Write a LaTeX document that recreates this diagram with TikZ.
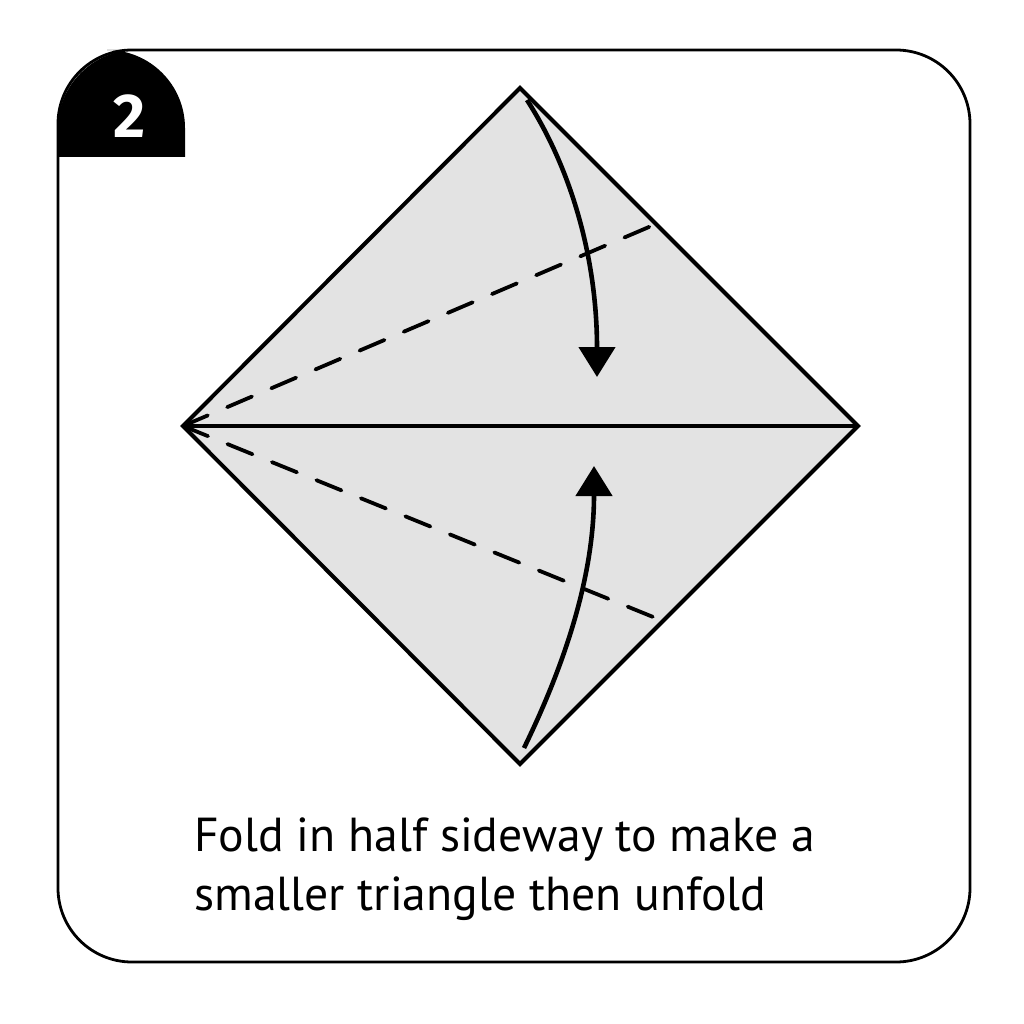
\documentclass[tikz,border=0pt]{standalone}
\usepackage{fontspec}
\setmainfont{PT Sans}
\newfontfamily\badgefont{Fira Sans}
\usetikzlibrary{arrows.meta}
\definecolor{paper}{HTML}{E3E3E3}
\begin{document}
\begin{tikzpicture}[x=1pt,y=-1pt,
  edge/.style={line width=4pt,line join=miter},
  crease/.style={line width=3.8pt,dash pattern=on 27pt off 21pt,line cap=round},
  foldarrow/.style={line width=4.6pt,-{Triangle[length=30pt,width=36pt]}}]
\useasboundingbox (0,0) rectangle (1024,1024);
% frame
\draw[line width=2.8pt,rounded corners=74pt] (58,50) rectangle (970,962);
% badge
\fill (58,157) {[rounded corners=78pt] -- (58,50) -- (185,50)} -- (185,157) -- cycle;
\node[text=white,font=\badgefont\bfseries\fontsize{62}{62}\selectfont] (num) at (130,116) {2};
% paper
\coordinate (T) at (520,88);
\coordinate (L) at (183,426);
\coordinate (R) at (858,426);
\coordinate (B) at (520,764);
\coordinate (DT) at (656,224);
\coordinate (DB) at (663,621);
\fill[paper] (T) -- (R) -- (B) -- (L) -- cycle;
\draw[crease] (L) -- (DT);
\draw[crease] (L) -- (DB);
\draw[edge] (T) -- (R) -- (B) -- (L) -- cycle;
\draw[edge] (L) -- (R);
% arrows
\coordinate (a1s) at (527,100);
\coordinate (a1e) at (597,377);
\coordinate (a2s) at (524,748);
\coordinate (a2e) at (594,466);
\draw[foldarrow] (a1s) .. controls (572,170) and (597,260) .. (a1e);
\draw[foldarrow] (a2s) .. controls (562,670) and (594,580) .. (a2e);
% caption
\node[anchor=base west,align=left,inner sep=0pt,font=\fontsize{47.7}{59}\selectfont] (cap) at (194,910) {Fold in half sideway to make a\\smaller triangle then unfold};
\end{tikzpicture}
\end{document}
